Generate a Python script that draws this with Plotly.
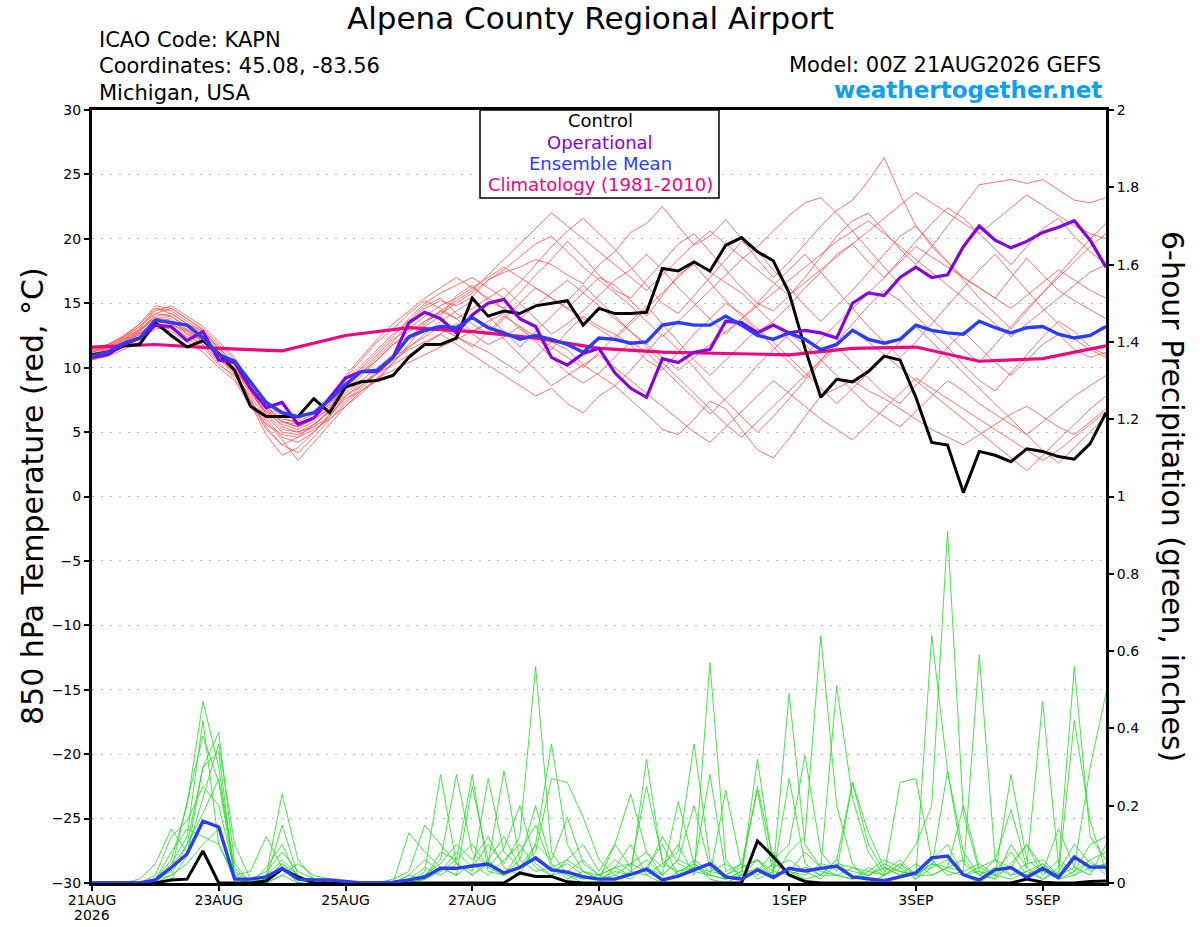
import pandas as pd
import plotly.graph_objects as go

# ---------------- DATA ----------------
start_time = "2026-08-21 00:00"

control_temp = [11.0, 11.2, 11.7, 11.8, 13.5, 12.5, 11.6, 12.1, 11.1, 9.8, 7.0, 6.2, 6.2, 6.2, 7.6, 6.5,
                8.5, 8.9, 9.0, 9.4, 10.8, 11.8, 11.8, 12.3, 15.4, 14.0, 14.4, 14.2, 14.8, 15.0, 15.2, 13.3,
                14.6, 14.2, 14.2, 14.3, 17.7, 17.5, 18.2, 17.5, 19.5, 20.1, 19.0, 18.3, 15.8, 11.5, 7.7, 9.1,
                8.9, 9.7, 10.9, 10.6, 7.7, 4.2, 4.0, 0.3, 3.5, 3.2, 2.7, 3.7, 3.5, 3.1, 2.9, 4.1, 6.5]

operational_temp = [10.8, 11.0, 11.8, 12.3, 13.3, 13.2, 12.1, 12.8, 10.6, 10.4, 8.4, 6.9, 7.3, 5.6, 6.1, 7.7,
                    9.2, 9.7, 9.7, 10.8, 13.5, 14.3, 13.8, 12.7, 14.1, 15.0, 15.3, 13.8, 13.2, 10.8, 10.2, 11.1,
                    11.5, 9.6, 8.4, 7.7, 10.7, 10.4, 11.2, 11.4, 13.6, 13.5, 12.7, 13.3, 12.7, 12.9, 12.7, 12.3,
                    15.0, 15.8, 15.6, 17.0, 17.8, 17.0, 17.2, 19.4, 21.0, 19.9, 19.3, 19.8, 20.5, 20.9, 21.4, 19.9,
                    17.8]

mean_temp = [10.9, 11.2, 11.9, 12.3, 13.7, 13.5, 13.3, 12.3, 11.0, 10.5, 8.9, 7.3, 6.5, 6.2, 6.5, 7.5,
             8.7, 9.7, 9.8, 10.8, 12.4, 12.9, 13.2, 13.1, 13.9, 13.1, 12.7, 12.2, 12.5, 12.2, 11.8, 11.2,
             12.3, 12.2, 11.9, 12.0, 13.3, 13.5, 13.3, 13.3, 14.0, 13.3, 12.5, 12.2, 12.7, 12.2, 11.4, 11.8,
             12.9, 12.2, 11.9, 12.2, 13.3, 12.9, 12.7, 12.6, 13.6, 13.1, 12.7, 13.1, 13.2, 12.6, 12.3, 12.5,
             13.2]

clim_temp = [11.6, 11.8, 11.5, 11.3, 12.5, 13.1, 12.8, 12.3, 11.5, 11.2, 11.1, 11.0, 11.5, 11.6, 10.5, 10.7, 11.7]

members_temp = [
    [11.2, 11.5, 12.0, 12.8, 14.2, 14.0, 13.2, 12.5, 11.0, 9.8, 8.0, 6.5, 5.6, 5.2, 5.8, 7.0,
     8.5, 9.6, 10.8, 12.0, 13.5, 14.6, 15.2, 14.8, 15.5, 16.8, 17.4, 17.8, 18.4, 18.0, 17.2, 16.5,
     18.0, 19.0, 20.5, 21.2, 22.5, 21.0, 19.5, 20.2, 21.5, 20.0, 18.4, 17.0, 18.2, 19.6, 21.0, 22.2,
     23.0, 24.5, 26.3, 23.5, 21.0, 19.4, 18.2, 17.0, 16.2, 15.4, 17.0, 18.5, 17.2, 16.0, 15.2, 14.5, 13.8],
    [10.8, 11.0, 11.6, 12.4, 13.6, 13.8, 12.6, 11.8, 10.4, 9.2, 7.2, 4.8, 3.2, 3.8, 5.0, 6.2,
     7.8, 8.8, 9.5, 10.6, 11.4, 12.0, 12.6, 11.8, 11.0, 10.2, 9.4, 8.6, 7.8, 8.4, 7.2, 6.5,
     7.8, 8.6, 7.5, 6.4, 5.2, 4.8, 6.0, 7.4, 6.8, 5.2, 3.6, 3.0, 4.5, 6.2, 7.8, 8.4,
     9.0, 8.2, 7.6, 6.8, 6.0, 5.2, 4.6, 4.0, 4.8, 5.6, 6.4, 7.0, 6.2, 5.4, 4.8, 5.8, 6.8],
    [11.0, 11.4, 12.2, 13.0, 14.6, 14.4, 13.6, 12.8, 11.6, 10.2, 8.2, 6.6, 5.8, 5.4, 6.0, 6.8,
     8.2, 9.4, 10.6, 11.8, 12.4, 13.2, 14.0, 15.6, 16.4, 15.2, 14.6, 15.8, 17.2, 18.4, 19.8, 18.6,
     17.2, 16.0, 15.4, 16.8, 18.2, 19.6, 20.4, 19.0, 17.6, 16.2, 15.0, 14.4, 15.6, 17.0, 18.6, 20.2,
     21.4, 22.0, 20.6, 19.2, 18.0, 19.4, 21.0, 22.6, 24.2, 24.4, 24.6, 24.3, 24.6, 23.8, 23.0, 22.8, 23.2],
    [10.6, 10.9, 11.4, 12.0, 13.2, 13.0, 12.2, 11.6, 10.2, 9.4, 7.8, 6.0, 4.6, 4.2, 5.0, 6.4,
     7.6, 8.2, 9.0, 10.4, 11.8, 13.4, 14.4, 13.8, 12.8, 13.6, 14.2, 13.0, 12.2, 11.4, 12.8, 14.0,
     13.2, 12.6, 11.8, 10.6, 9.8, 11.2, 12.6, 13.8, 15.0, 14.2, 13.0, 11.6, 10.4, 9.2, 10.6, 12.0,
     13.4, 14.8, 16.0, 15.2, 14.0, 12.8, 11.6, 10.2, 9.0, 8.2, 9.6, 11.0, 12.4, 13.6, 12.8, 11.6, 11.0],
    [11.4, 11.8, 12.4, 13.4, 14.8, 14.6, 13.8, 13.0, 11.8, 10.6, 8.6, 7.0, 6.0, 5.8, 6.4, 7.4,
     9.0, 10.2, 11.4, 12.6, 13.6, 14.8, 15.4, 14.2, 13.4, 12.6, 13.8, 15.0, 16.2, 15.4, 14.6, 15.8,
     17.0, 16.4, 15.2, 14.0, 15.6, 17.2, 18.0, 16.6, 15.2, 14.0, 12.8, 13.6, 14.8, 16.2, 17.4, 18.8,
     19.6, 18.2, 17.0, 18.4, 19.8, 21.2, 22.4, 21.6, 20.4, 19.2, 18.0, 19.4, 20.8, 21.6, 20.2, 19.0, 18.0],
    [10.9, 11.2, 11.8, 12.6, 13.8, 13.4, 12.8, 12.0, 10.8, 9.6, 7.6, 5.4, 4.0, 4.6, 5.6, 6.6,
     8.0, 9.0, 10.0, 11.0, 12.2, 12.8, 13.0, 12.4, 11.8, 11.2, 10.4, 9.6, 10.8, 12.0, 11.4, 10.2,
     9.4, 8.6, 9.8, 11.2, 12.6, 11.4, 10.0, 8.6, 7.4, 6.2, 5.0, 6.2, 7.6, 9.0, 10.4, 11.6,
     10.4, 9.2, 8.0, 7.2, 8.6, 10.0, 11.6, 12.8, 11.6, 10.4, 9.4, 10.6, 11.8, 12.6, 11.4, 10.8, 11.2],
    [11.1, 11.4, 12.1, 12.9, 14.0, 14.2, 13.4, 12.6, 11.2, 10.0, 8.2, 6.2, 5.0, 4.8, 5.4, 6.8,
     8.8, 10.0, 11.2, 12.4, 13.8, 15.0, 15.8, 16.4, 17.0, 16.2, 15.4, 16.6, 18.0, 19.4, 20.6, 21.6,
     20.4, 19.2, 17.8, 16.4, 15.0, 14.2, 15.6, 17.0, 18.4, 19.8, 19.0, 17.6, 16.2, 14.8, 13.6, 14.8,
     16.0, 17.4, 18.8, 20.2, 21.0, 19.6, 18.2, 16.8, 15.4, 14.2, 13.0, 14.4, 15.8, 17.2, 18.6, 20.0, 21.2],
    [10.7, 11.0, 11.6, 12.2, 13.0, 13.2, 12.4, 11.8, 10.6, 9.8, 8.4, 6.8, 5.4, 5.0, 5.6, 6.6,
     7.8, 8.6, 9.6, 10.2, 11.0, 11.8, 12.6, 13.4, 12.6, 11.8, 12.4, 13.2, 12.0, 10.8, 9.6, 8.8,
     9.6, 10.8, 12.0, 11.2, 10.0, 8.8, 7.6, 6.4, 7.6, 8.8, 10.2, 11.4, 12.6, 11.8, 10.6, 9.4,
     8.2, 7.0, 6.2, 5.4, 6.6, 7.8, 9.0, 8.2, 7.2, 6.4, 5.6, 4.8, 5.8, 6.8, 7.8, 8.6, 9.4],
    [11.3, 11.6, 12.3, 13.2, 14.4, 14.8, 14.0, 13.2, 12.0, 10.8, 8.8, 7.2, 6.4, 6.0, 6.6, 7.8,
     9.2, 10.6, 12.0, 13.0, 14.2, 15.2, 14.6, 13.8, 14.6, 15.4, 16.2, 15.0, 13.8, 12.6, 13.4, 14.4,
     15.6, 16.8, 17.6, 18.8, 17.6, 16.2, 15.0, 13.8, 12.6, 13.8, 15.0, 16.4, 17.6, 18.8, 17.4, 16.0,
     14.6, 13.2, 12.0, 10.8, 12.0, 13.4, 14.8, 16.2, 17.6, 18.8, 17.4, 16.0, 14.6, 13.4, 12.2, 11.4, 10.8],
    [10.8, 11.2, 11.9, 12.7, 13.4, 13.6, 12.9, 12.2, 10.9, 9.9, 8.2, 6.4, 5.2, 5.0, 5.4, 6.2,
     7.4, 8.6, 9.8, 11.0, 12.2, 13.6, 14.2, 15.0, 15.8, 16.8, 17.6, 18.6, 19.6, 20.2, 19.0, 17.8,
     16.8, 15.8, 14.8, 13.6, 12.4, 13.6, 14.8, 16.0, 17.2, 18.4, 19.4, 20.6, 21.8, 22.8, 23.2, 22.0,
     20.6, 19.2, 17.8, 16.4, 15.0, 13.8, 12.6, 11.4, 10.4, 11.8, 13.2, 14.6, 15.8, 17.0, 18.2, 19.4, 20.4],
    [11.0, 11.3, 11.9, 12.6, 13.6, 13.4, 12.6, 12.2, 11.0, 9.8, 7.4, 5.2, 4.0, 3.4, 4.6, 6.0,
     7.2, 8.4, 9.6, 10.8, 11.6, 12.4, 13.2, 12.4, 11.6, 12.8, 14.0, 13.2, 12.4, 11.6, 10.8, 10.0,
     11.2, 12.4, 13.6, 14.8, 13.4, 12.0, 10.6, 9.4, 10.6, 11.8, 13.0, 12.0, 10.8, 9.6, 8.4, 7.2,
     8.4, 9.6, 10.8, 12.0, 13.2, 12.0, 10.8, 9.6, 8.4, 7.2, 6.0, 4.8, 3.6, 2.6, 3.8, 5.0, 6.2],
    [11.5, 11.8, 12.5, 13.4, 14.6, 14.2, 13.4, 12.8, 11.4, 10.2, 8.4, 6.8, 5.8, 5.4, 6.0, 7.2,
     8.6, 9.8, 11.0, 12.2, 13.0, 14.0, 14.8, 15.4, 16.2, 17.0, 17.8, 17.0, 16.2, 15.4, 14.6, 13.8,
     13.0, 12.2, 13.4, 14.6, 15.8, 17.0, 18.2, 17.4, 16.6, 15.8, 14.6, 13.4, 12.2, 11.0, 12.2, 13.4,
     14.6, 15.8, 17.0, 18.2, 19.4, 18.6, 17.8, 17.0, 16.2, 15.4, 14.6, 15.6, 16.6, 17.6, 16.8, 16.0, 15.4],
    [10.6, 11.0, 11.7, 12.3, 13.2, 12.8, 12.0, 11.2, 10.0, 9.0, 7.0, 5.6, 4.8, 4.6, 5.2, 6.0,
     7.0, 8.2, 9.2, 9.8, 10.4, 11.0, 11.6, 12.2, 12.8, 13.4, 12.2, 11.0, 9.8, 8.6, 9.4, 10.2,
     11.0, 10.0, 9.0, 8.0, 7.0, 6.0, 5.0, 4.2, 5.4, 6.6, 7.8, 9.0, 8.0, 7.0, 6.0, 5.2,
     4.4, 5.6, 6.8, 8.0, 9.2, 8.4, 7.6, 6.8, 6.0, 5.2, 4.4, 3.6, 2.8, 3.6, 4.6, 5.6, 6.6],
    [11.2, 11.6, 12.2, 13.0, 13.8, 14.0, 13.0, 12.4, 11.2, 10.4, 8.6, 7.0, 5.8, 5.6, 6.2, 7.6,
     9.4, 10.8, 12.2, 13.4, 14.4, 15.4, 16.2, 17.0, 16.2, 15.4, 14.6, 13.8, 14.8, 15.8, 16.8, 15.8,
     14.8, 13.8, 12.8, 11.8, 10.8, 9.8, 10.8, 11.8, 12.8, 13.8, 14.8, 15.8, 16.8, 17.8, 18.8, 19.8,
     20.6, 21.4, 20.4, 19.4, 18.4, 17.4, 16.4, 15.4, 14.4, 13.4, 12.4, 13.4, 14.4, 15.4, 16.4, 17.4, 18.0],
    [11.0, 11.3, 12.0, 12.8, 13.9, 13.6, 12.9, 12.1, 10.7, 9.5, 7.4, 5.8, 4.4, 2.8, 4.2, 5.6,
     7.0, 8.0, 9.2, 10.4, 11.6, 12.6, 13.6, 14.4, 15.2, 14.0, 12.8, 11.6, 12.8, 14.0, 15.2, 16.4,
     15.2, 14.0, 12.8, 11.6, 10.4, 9.2, 8.0, 6.8, 5.6, 4.6, 5.8, 7.0, 8.2, 9.4, 10.6, 11.8,
     13.0, 12.0, 11.0, 10.0, 9.0, 8.0, 7.0, 6.0, 5.0, 4.0, 3.0, 2.0, 3.2, 4.4, 5.6, 6.8, 7.8],
    [11.3, 11.7, 12.4, 13.2, 14.2, 14.6, 13.8, 12.9, 11.5, 10.4, 8.8, 7.2, 6.2, 5.6, 6.0, 7.2,
     8.4, 9.6, 10.6, 11.8, 12.8, 13.6, 14.4, 15.2, 16.0, 17.2, 18.4, 19.6, 20.8, 22.0, 21.0, 20.0,
     19.0, 18.0, 17.0, 16.0, 17.2, 18.4, 19.6, 20.6, 19.6, 18.6, 17.6, 16.6, 15.6, 16.6, 17.6, 18.6,
     19.6, 20.6, 21.6, 22.6, 23.6, 22.8, 22.0, 21.2, 20.4, 21.4, 22.4, 23.4, 22.6, 21.8, 21.0, 20.4, 20.0],
]

control_precip = [0, 0, 0, 0, 0, 0.008, 0.01, 0.083, 0, 0, 0, 0.005, 0.036, 0.016, 0, 0,
                  0, 0, 0, 0, 0, 0, 0, 0, 0, 0, 0, 0.026, 0.017, 0.017, 0.003, 0,
                  0, 0, 0, 0, 0, 0, 0, 0, 0, 0, 0.109, 0.068, 0.021, 0.004, 0, 0,
                  0, 0, 0, 0, 0, 0, 0, 0, 0, 0, 0, 0.01, 0.002, 0, 0, 0.004, 0.005]

mean_precip = [0, 0, 0, 0, 0.008, 0.04, 0.075, 0.16, 0.145, 0.01, 0.01, 0.016, 0.038, 0.01, 0.008, 0.008,
               0.004, 0, 0, 0.002, 0.008, 0.015, 0.038, 0.038, 0.044, 0.049, 0.026, 0.04, 0.065, 0.034, 0.028, 0.016,
               0.01, 0.01, 0.022, 0.036, 0.008, 0.018, 0.034, 0.05, 0.016, 0.01, 0.034, 0.014, 0.038, 0.031, 0.038, 0.044,
               0.016, 0.01, 0.006, 0.016, 0.026, 0.065, 0.07, 0.021, 0.008, 0.034, 0.04, 0.014, 0.038, 0.014, 0.067, 0.041,
               0.041]

members_precip = [
    [0, 0, 0, 0, 0.01, 0.06, 0.2, 0.47, 0.3, 0.02, 0, 0.01, 0.05, 0.02, 0, 0,
     0, 0, 0, 0, 0.02, 0.06, 0.03, 0.08, 0.04, 0.1, 0.05, 0.12, 0.56, 0.08, 0.02, 0,
     0, 0.04, 0.1, 0.02, 0, 0.03, 0.05, 0.01, 0, 0.02, 0.06, 0.01, 0.08, 0.12, 0.64, 0.2,
     0.05, 0, 0.02, 0.04, 0.01, 0.06, 0.1, 0.02, 0, 0.03, 0.08, 0.02, 0.05, 0.01, 0.03, 0.06, 0.02],
    [0, 0, 0, 0, 0, 0.02, 0.1, 0.3, 0.39, 0.05, 0, 0, 0.02, 0, 0, 0,
     0, 0, 0, 0, 0, 0.03, 0.28, 0.05, 0.02, 0.06, 0.12, 0.04, 0.1, 0.36, 0.1, 0.03,
     0.01, 0.02, 0.05, 0.08, 0.04, 0.1, 0.02, 0.57, 0.06, 0.01, 0.03, 0.08, 0.02, 0.04, 0.02, 0.06,
     0.01, 0.03, 0.06, 0.04, 0.1, 0.2, 0.91, 0.18, 0.03, 0.01, 0.05, 0.1, 0.04, 0.02, 0.07, 0.03, 0.05],
    [0, 0, 0, 0.01, 0.05, 0.14, 0.08, 0.22, 0.36, 0.1, 0.01, 0.03, 0.08, 0.03, 0.01, 0,
     0, 0, 0, 0, 0.01, 0.02, 0.06, 0.28, 0.08, 0.04, 0.09, 0.2, 0.05, 0.02, 0.06, 0.1,
     0.03, 0.1, 0.23, 0.08, 0.02, 0.06, 0.2, 0.04, 0.01, 0.03, 0.25, 0.06, 0.1, 0.33, 0.08, 0.03,
     0.26, 0.13, 0.04, 0.02, 0.05, 0.02, 0.04, 0.06, 0.02, 0.01, 0.1, 0.04, 0.47, 0.05, 0.02, 0.06, 0.08],
    [0, 0, 0, 0, 0.01, 0.03, 0.21, 0.38, 0.26, 0.02, 0, 0.02, 0.23, 0.06, 0.01, 0,
     0, 0, 0, 0, 0.13, 0.08, 0.04, 0.02, 0.25, 0.06, 0.02, 0.04, 0.08, 0.27, 0.26, 0.17,
     0.06, 0.02, 0.01, 0.04, 0.1, 0.02, 0.06, 0.03, 0.02, 0.05, 0.01, 0.03, 0.49, 0.1, 0.04, 0.51,
     0.22, 0.08, 0.02, 0.05, 0.01, 0.04, 0.29, 0.08, 0.02, 0.06, 0.19, 0.04, 0.01, 0.03, 0.1, 0.05, 0.04],
    [0, 0, 0, 0, 0.02, 0.12, 0.16, 0.25, 0.2, 0.03, 0, 0.01, 0.15, 0.02, 0, 0,
     0, 0, 0, 0.01, 0.03, 0.15, 0.1, 0.05, 0.03, 0.27, 0.08, 0.04, 0.06, 0.03, 0.05, 0.02,
     0.01, 0.1, 0.04, 0.25, 0.06, 0.02, 0.04, 0.03, 0.05, 0.02, 0.32, 0.04, 0.06, 0.03, 0.01, 0.05,
     0.04, 0.02, 0.05, 0.03, 0.02, 0.05, 0.04, 0.03, 0.59, 0.06, 0.02, 0.03, 0.01, 0.04, 0.56, 0.12, 0.06],
    [0, 0, 0, 0, 0, 0.04, 0.1, 0.18, 0.27, 0.04, 0, 0.04, 0.1, 0.01, 0, 0,
     0, 0, 0, 0, 0, 0.01, 0.03, 0.06, 0.28, 0.03, 0.02, 0.06, 0.2, 0.05, 0.01, 0.03,
     0.02, 0.04, 0.02, 0.32, 0.05, 0.08, 0.36, 0.06, 0.02, 0.04, 0.06, 0.02, 0.03, 0.08, 0.04, 0.02,
     0.01, 0.04, 0.02, 0.26, 0.27, 0.06, 0.02, 0.03, 0.05, 0.02, 0.28, 0.06, 0.03, 0.14, 0.04, 0.3, 0.49],
    [0, 0, 0, 0, 0.01, 0.08, 0.14, 0.12, 0.1, 0.02, 0.03, 0.12, 0.04, 0, 0.01, 0,
     0, 0, 0, 0, 0.01, 0.04, 0.02, 0.05, 0.02, 0.05, 0.29, 0.06, 0.03, 0.04, 0.02, 0.01,
     0.02, 0.06, 0.03, 0.02, 0.05, 0.03, 0.04, 0.28, 0.03, 0.05, 0.24, 0.02, 0.27, 0.05, 0.02, 0.02,
     0.04, 0.03, 0.02, 0.05, 0.02, 0.64, 0.29, 0.05, 0.02, 0.04, 0.02, 0.05, 0.06, 0.02, 0.42, 0.16, 0.03],
    [0, 0, 0, 0, 0.01, 0.02, 0.05, 0.1, 0.14, 0.01, 0, 0, 0.02, 0.05, 0.02, 0.01,
     0, 0, 0, 0, 0, 0.01, 0.04, 0.02, 0.05, 0.02, 0.06, 0.1, 0.04, 0.02, 0.03, 0.06,
     0.02, 0.04, 0.05, 0.03, 0.12, 0.05, 0.03, 0.02, 0.24, 0.04, 0.06, 0.03, 0.02, 0.04, 0.03, 0.02,
     0.01, 0.02, 0.04, 0.03, 0.02, 0.02, 0.04, 0.2, 0.04, 0.06, 0.04, 0.1, 0.02, 0.06, 0.03, 0.1, 0.12],
    [0, 0, 0, 0, 0, 0.01, 0.07, 0.3, 0.34, 0.01, 0, 0.01, 0.05, 0.01, 0, 0,
     0, 0, 0, 0, 0.02, 0.01, 0.08, 0.06, 0.1, 0.04, 0.02, 0.08, 0.15, 0.04, 0.06, 0.03,
     0.01, 0.03, 0.02, 0.04, 0.02, 0.06, 0.04, 0.02, 0.01, 0.02, 0.04, 0.02, 0.03, 0.02, 0.05, 0.04,
     0.03, 0.02, 0.04, 0.02, 0.03, 0.04, 0.06, 0.02, 0.03, 0.02, 0.04, 0.02, 0.03, 0.01, 0.02, 0.04, 0.05],
    [0, 0, 0, 0, 0.01, 0.05, 0.12, 0.42, 0.1, 0.01, 0, 0.02, 0.06, 0.02, 0, 0,
     0, 0, 0, 0, 0.01, 0.02, 0.05, 0.1, 0.06, 0.12, 0.04, 0.02, 0.1, 0.06, 0.17, 0.05,
     0.02, 0.01, 0.03, 0.06, 0.02, 0.21, 0.05, 0.02, 0.01, 0.03, 0.02, 0.05, 0.03, 0.01, 0.02, 0.06,
     0.26, 0.1, 0.03, 0.06, 0.02, 0.05, 0.03, 0.02, 0.04, 0.02, 0.01, 0.03, 0.05, 0.02, 0.04, 0.02, 0.1],
]

x_tick_dates = ["2026-08-21", "2026-08-23", "2026-08-25", "2026-08-27", "2026-08-29",
                "2026-09-01", "2026-09-03", "2026-09-05"]
x_tick_labels = ["21AUG", "23AUG", "25AUG", "27AUG", "29AUG", "1SEP", "3SEP", "5SEP"]
year_label = "2026"
temp_ticks = [-30, -25, -20, -15, -10, -5, 0, 5, 10, 15, 20, 25, 30]
precip_ticks = [0, 0.2, 0.4, 0.6, 0.8, 1.0, 1.2, 1.4, 1.6, 1.8, 2.0]
precip_tick_labels = ["0", "0.2", "0.4", "0.6", "0.8", "1", "1.2", "1.4", "1.6", "1.8", "2"]

# ---------------- FIGURE ----------------
W, H = 1200, 927
L, R, T, B = 92, 94, 110, 44
PW, PH = W - L - R, H - T - B


def px(x):
    return (x - L) / PW


def py(y):
    return (H - B - y) / PH


times6 = pd.date_range(start_time, periods=len(control_temp), freq="6h")
times_daily = pd.date_range(start_time, periods=len(clim_temp), freq="1D")

FONT = "DejaVu Sans, Liberation Sans, Arial, sans-serif"
RED = "rgba(255,70,70,0.85)"
GREEN = "rgba(40,220,40,0.95)"
PURPLE = "#8400dc"
BLUE = "#2a3cff"
PINK = "#f0037f"

fig = go.Figure()

for m in members_temp:
    fig.add_trace(go.Scatter(x=times6, y=m, mode="lines", line=dict(color=RED, width=0.9),
                             hoverinfo="skip", showlegend=False))
for m in members_precip:
    fig.add_trace(go.Scatter(x=times6, y=m, mode="lines", line=dict(color=GREEN, width=0.9),
                             yaxis="y2", hoverinfo="skip", showlegend=False))

fig.add_trace(go.Scatter(x=times_daily, y=clim_temp, mode="lines", line=dict(color=PINK, width=3.2),
                         name="Climatology (1981-2010)", showlegend=False))
fig.add_trace(go.Scatter(x=times6, y=control_temp, mode="lines", line=dict(color="black", width=3),
                         name="Control", showlegend=False))
fig.add_trace(go.Scatter(x=times6, y=operational_temp, mode="lines", line=dict(color=PURPLE, width=3.2),
                         name="Operational", showlegend=False))
fig.add_trace(go.Scatter(x=times6, y=mean_temp, mode="lines", line=dict(color=BLUE, width=3.4),
                         name="Ensemble Mean", showlegend=False))
fig.add_trace(go.Scatter(x=times6, y=control_precip, mode="lines", line=dict(color="black", width=3),
                         yaxis="y2", showlegend=False))
fig.add_trace(go.Scatter(x=times6, y=mean_precip, mode="lines", line=dict(color=BLUE, width=3.4),
                         yaxis="y2", showlegend=False))

fig.update_layout(
    width=W, height=H, autosize=False,
    margin=dict(l=L, r=R, t=T, b=B, pad=0, autoexpand=False),
    paper_bgcolor="white", plot_bgcolor="white",
    font=dict(family=FONT, color="black", size=14),
    showlegend=False,
    xaxis=dict(
        type="date", automargin=False,
        range=[times6[0], times6[-1]],
        tickvals=pd.to_datetime(x_tick_dates), ticktext=x_tick_labels,
        ticks="outside", ticklen=5, tickcolor="black", tickwidth=1.5,
        ticklabelstandoff=-3,
        showgrid=False, zeroline=False,
        showline=True, linecolor="black", linewidth=2.5, mirror=True,
        tickfont=dict(size=14, family=FONT),
    ),
    yaxis=dict(
        automargin=False,
        range=[-30, 30], tickvals=temp_ticks,
        ticks="outside", ticklen=5, tickcolor="black", tickwidth=1.5,
        showgrid=True, gridcolor="#b8b8b8", griddash="2px,7px", gridwidth=1.3,
        zeroline=False,
        showline=True, linecolor="black", linewidth=3, mirror=False,
        tickfont=dict(size=14, family=FONT),
    ),
    yaxis2=dict(
        automargin=False,
        range=[0, 2], overlaying="y", side="right",
        tickvals=precip_ticks, ticktext=precip_tick_labels,
        ticks="outside", ticklen=5, tickcolor="black", tickwidth=1.5,
        showgrid=False, zeroline=False,
        showline=True, linecolor="black", linewidth=3,
        tickfont=dict(size=14, family=FONT),
    ),
)

# legend box
fig.add_shape(type="rect", xref="paper", yref="paper",
              x0=px(480), x1=px(719), y0=py(198), y1=py(110),
              line=dict(color="black", width=1.5), fillcolor="white", layer="above")

ann = []
legend_items = [("Control", "black", 121), ("Operational", PURPLE, 142),
                ("Ensemble Mean", BLUE, 163), ("Climatology (1981-2010)", PINK, 185)]
for txt, col, yy in legend_items:
    ann.append(dict(text=txt, x=px(600), y=py(yy), xref="paper", yref="paper",
                    xanchor="center", yanchor="middle", showarrow=False,
                    font=dict(size=18, color=col, family=FONT)))

ann.append(dict(text=year_label, x=pd.to_datetime(x_tick_dates[0]), y=py(915), xref="x", yref="paper",
                xanchor="center", yanchor="middle", showarrow=False,
                font=dict(size=14, color="black", family=FONT)))
ann.append(dict(text="Alpena County Regional Airport", x=px(590), y=py(18), xref="paper", yref="paper",
                xanchor="center", yanchor="middle", showarrow=False,
                font=dict(size=31, color="black", family=FONT)))
for txt, yy in [("ICAO Code: KAPN", 40), ("Coordinates: 45.08, -83.56", 66), ("Michigan, USA", 93)]:
    ann.append(dict(text=txt, x=px(97), y=py(yy), xref="paper", yref="paper",
                    xanchor="left", yanchor="middle", showarrow=False,
                    font=dict(size=21, color="black", family=FONT)))
ann.append(dict(text="Model: 00Z 21AUG2026 GEFS", x=px(1103), y=py(65), xref="paper", yref="paper",
                xanchor="right", yanchor="middle", showarrow=False,
                font=dict(size=21, color="black", family=FONT)))
ann.append(dict(text="<b>weathertogether.net</b>", x=px(1104), y=py(90), xref="paper", yref="paper",
                xanchor="right", yanchor="middle", showarrow=False,
                font=dict(size=23, color="#0aa0f5", family=FONT)))
ann.append(dict(text="850 hPa Temperature (red, °C)", x=px(32), y=py(496), xref="paper", yref="paper",
                xanchor="center", yanchor="middle", showarrow=False, textangle=-90,
                font=dict(size=30, color="black", family=FONT)))
ann.append(dict(text="6-hour Precipitation (green, inches)", x=px(1173), y=py(496), xref="paper", yref="paper",
                xanchor="center", yanchor="middle", showarrow=False, textangle=90,
                font=dict(size=30, color="black", family=FONT)))
fig.update_layout(annotations=ann)

fig.write_html("out.html", config={"displayModeBar": False},
               post_script="document.body.style.margin='0';document.body.style.padding='0';")
